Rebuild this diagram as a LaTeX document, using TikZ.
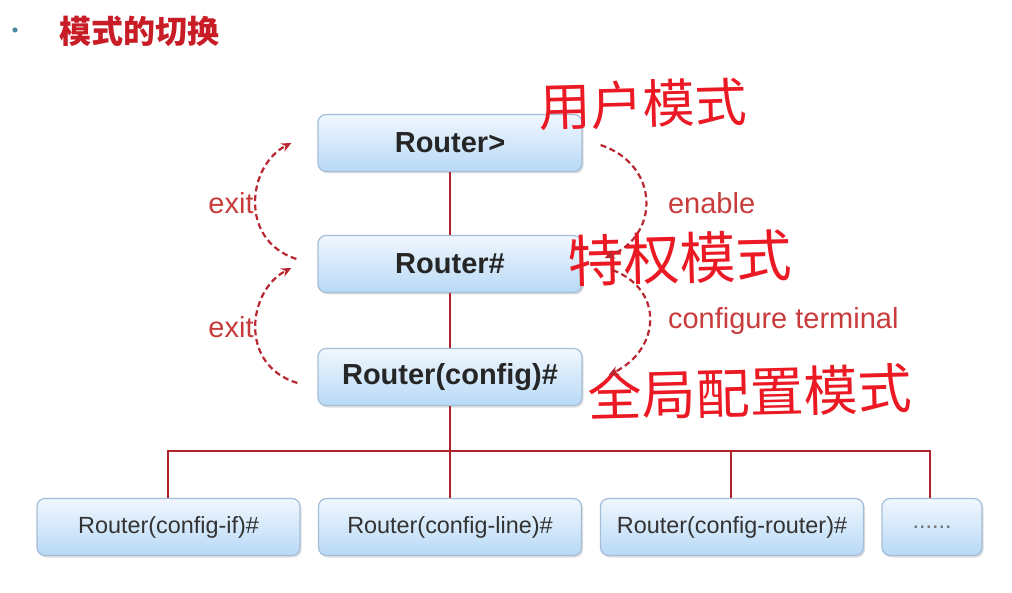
\documentclass[tikz,border=0pt]{standalone}
\usepackage{fontspec}
\setmainfont{Liberation Sans}
\newfontfamily\cjk{Noto Sans CJK SC}
\usetikzlibrary{calc,arrows.meta,shadows}
\definecolor{linered}{RGB}{175,35,45}
\definecolor{dashred}{RGB}{185,40,50}
\definecolor{labred}{RGB}{200,60,60}
\definecolor{titlered}{RGB}{200,28,38}
\definecolor{inkred}{RGB}{235,25,35}
\definecolor{boxtop}{RGB}{240,247,254}
\definecolor{boxbot}{RGB}{184,217,246}
\definecolor{boxedge}{RGB}{165,190,215}
\definecolor{bullet}{RGB}{80,140,160}
\begin{document}
\begin{tikzpicture}[x=0.5pt,y=-0.5pt,
  boxbase/.style={draw=boxedge, line width=0.6pt, rounded corners=4pt,
    top color=boxtop, bottom color=boxbot, inner sep=0pt,
    minimum height=28.5pt,
    drop shadow={shadow xshift=0.8pt, shadow yshift=-1pt, opacity=0.25}},
  topbox/.style={boxbase, minimum width=132pt,
    font=\bfseries\fontsize{14.5}{16}\selectfont, text=black!85},
  subbox/.style={boxbase, minimum width=131.5pt,
    font=\fontsize{11.7}{14}\selectfont, text=black!80},
  tree/.style={draw=linered, line width=1pt},
  modearc/.style={draw=dashred, line width=1.1pt, dash pattern=on 3pt off 1.8pt,
    -{Stealth[length=5pt,width=4.5pt]}},
  cmdlabel/.style={text=labred, font=\fontsize{14.5}{16}\selectfont},
  ink/.style={text=inkred}
]
\useasboundingbox[fill=white] (0,0) rectangle (1012,593);

% title
\fill[bullet] (15,30) circle (1.3pt);
\node[anchor=west, text=titlered, font=\cjk\bfseries\fontsize{16}{18}\selectfont] (title) at (52,31) {模式的切换};

% mode boxes
\node[topbox] (r1) at (450,143) {Router>};
\node[topbox] (r2) at (450,264) {Router\#};
\node[topbox] (r3) at (450,377) {Router(config)\#};

\node[subbox] (b1) at (168.5,527) {Router(config-if)\#};
\node[subbox] (b2) at (450,527) {Router(config-line)\#};
\node[subbox] (b3) at (732,527) {Router(config-router)\#};
\node[boxbase, minimum width=50pt, font=\fontsize{11.7}{14}\selectfont, text=black!55] (b4) at (932,527) {......};

% tree lines
\coordinate (bus) at (450,451);
\draw[tree] (r1.south) -- (r2.north);
\draw[tree] (r2.south) -- (r3.north);
\draw[tree] (r3.south) -- (b2.north);
\draw[tree] (b1.north -| 168,0) -- (168,451) -- (930,451) -- (b4.north -| 930,0);
\draw[tree] (b3.north -| 731,0) -- (731,451);

% handwritten notes
\node[ink, rotate=1.5, font=\cjk\fontsize{26}{28}\selectfont] (h1) at (643,104) {用户模式};
\node[ink, rotate=1.5, font=\cjk\fontsize{28}{30}\selectfont] (h2) at (680,258) {特权模式};
\node[ink, rotate=1.5, font=\cjk\fontsize{27}{30}\selectfont] (h3) at (750,392) {全局配置模式};

% exit arcs (left)
\coordinate (e1s) at ($(r2.west)+(-21,-5)$);
\coordinate (e1e) at ($(r1.west)+(-26,0)$);
\coordinate (e2s) at ($(r3.west)+(-20,6)$);
\coordinate (e2e) at ($(r2.west)+(-26,4)$);
\draw[modearc] (e1s) .. controls (238,240) and (248,165) .. (e1e);
\draw[modearc] (e2s) .. controls (238,365) and (248,290) .. (e2e);
\node[cmdlabel] (x1) at (231,203) {exit};
\node[cmdlabel] (x2) at (231,327) {exit};

% enable / configure terminal arcs (right)
\coordinate (n1s) at ($(r1.east)+(18,2)$);
\coordinate (n1e) at ($(r2.east)+(22,-6)$);
\coordinate (n2s) at ($(r2.east)+(30,6)$);
\coordinate (n2e) at ($(r3.east)+(26,-2)$);
\draw[modearc] (n1s) .. controls (660,165) and (660,235) .. (n1e);
\draw[modearc] (n2s) .. controls (665,290) and (660,350) .. (n2e);
\node[cmdlabel, anchor=west] (en) at (661,203) {enable};
\node[cmdlabel, anchor=west] (ct) at (661,321) {configure terminal};
\end{tikzpicture}
\end{document}
